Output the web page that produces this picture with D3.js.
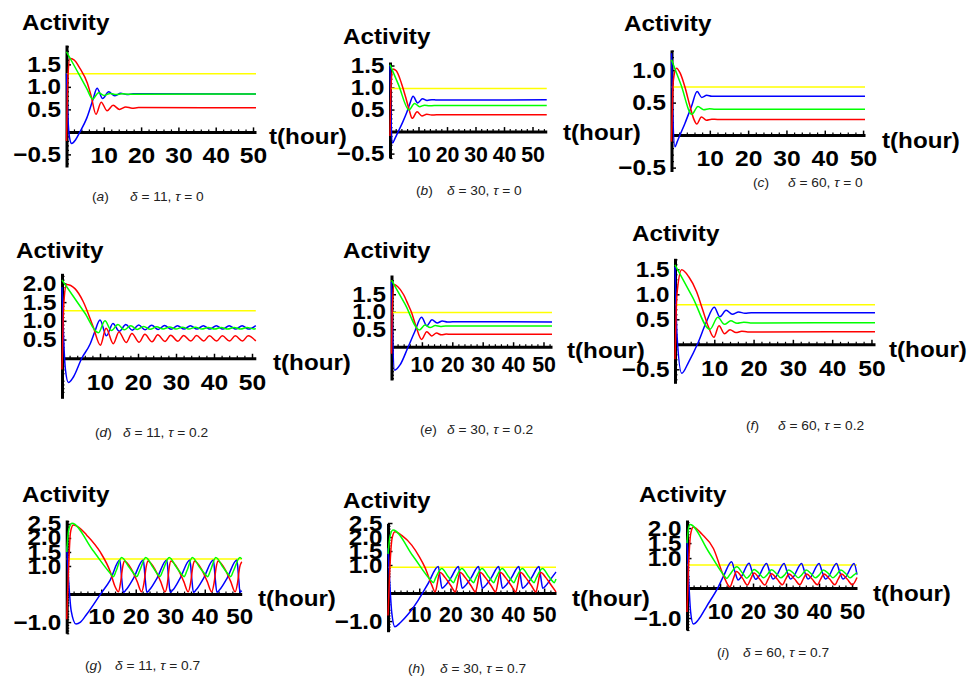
<!DOCTYPE html>
<html>
<head>
<meta charset="utf-8">
<script src="https://cdn.jsdelivr.net/npm/d3@7"></script>
<style>
  body { margin: 0; background: #fff; }
  svg { display: block; background: #fff; }
  .axis text, .bold-label { font-family: "Liberation Sans", Arial, sans-serif; font-weight: bold; font-size: 22px; fill: #000; }
  .caption { font-family: "Liberation Sans", Arial, sans-serif; font-size: 12.5px; fill: #222; }
</style>
</head>
<body>
<svg id="chart" width="971" height="678"></svg>
<script>
// ---- panel labels ----
const panelLetters = ["a", "b", "c", "d", "e", "f", "g", "h", "i"];
const deltaValues = [11, 30, 60, 11, 30, 60, 11, 30, 60];
const tauValues = ["0", "0", "0", "0.2", "0.2", "0.2", "0.7", "0.7", "0.7"];
const xTickLabels = [10, 20, 30, 40, 50];
const yTicksA = [-0.5, 0.5, 1.0, 1.5];
const yTicksB = [-0.5, 0.5, 1.0, 1.5];
const yTicksC = [-0.5, 0.5, 1.0];
const yTicksD = [0.5, 1.0, 1.5, 2.0];
const yTicksE = [0.5, 1.0, 1.5];
const yTicksF = [-0.5, 0.5, 1.0, 1.5];
const yTicksG = [-1.0, 1.0, 1.5, 2.0, 2.5];
const yTicksH = [-1.0, 1.0, 1.5, 2.0, 2.5];
const yTicksI = [-1.0, 1.0, 1.5, 2.0];

// ---- series: [t, activity] ----
// (a) delta = 11, tau = 0
const yellowA = [[0, 1.29], [50.8, 1.29]];
const blueA = [[0, 1.3], [0.4, 0.3], [0.8, -0.12], [1.4, -0.26], [2.4, -0.18], [3.6, 0], [5.4, 0.3], [7.1, 0.72], [8.2, 0.97], [9.7, 0.74], [11.3, 0.89], [12.9, 0.8], [14.5, 0.86], [16.2, 0.83], [17.9, 0.845], [50.8, 0.84]];
const redA = [[0, -0.2], [0.4, 1.25], [0.9, 1.63], [2, 1.6], [3.6, 1.41], [5.6, 1.08], [6.6, 0.8], [7.9, 0.39], [9.3, 0.66], [10.9, 0.47], [12.5, 0.59], [14.2, 0.5], [15.9, 0.555], [17.6, 0.525], [19.3, 0.54], [50.8, 0.535]];
const greenA = [[0, 1.78], [3, 1.33], [5.5, 0.95], [7, 0.73], [8.6, 0.87], [10.1, 0.81], [11.7, 0.855], [13.3, 0.83], [14.9, 0.845], [16.5, 0.838], [50.8, 0.84]];

// (b) delta = 30, tau = 0
const yellowB = [[0, 0.98], [55, 0.98]];
const blueB = [[0, 1.5], [0.3, 0.5], [0.9, -0.26], [1.8, -0.15], [2.9, 0], [4.5, 0.22], [5.8, 0.42], [7, 0.64], [8.1, 0.8], [9.7, 0.65], [11.4, 0.745], [13, 0.705], [14.7, 0.725], [16.4, 0.717], [55, 0.72]];
const redB = [[0, -0.1], [0.4, 1.1], [1, 1.42], [2.2, 1.38], [4, 1.1], [5.5, 0.78], [6.7, 0.5], [7.8, 0.3], [9.5, 0.45], [11.2, 0.355], [12.9, 0.395], [14.6, 0.375], [16.3, 0.382], [55, 0.38]];
const greenB = [[0, 1.52], [3, 1.06], [6.7, 0.49], [8.6, 0.64], [10.4, 0.565], [12.1, 0.6], [13.8, 0.585], [15.5, 0.592], [55, 0.59]];

// (c) delta = 60, tau = 0
const yellowC = [[0, 0.74], [50.5, 0.74]];
const blueC = [[0, 1.26], [0.3, 0.4], [0.9, -0.18], [1.5, -0.1], [2.2, 0], [3.5, 0.18], [5.2, 0.44], [6.7, 0.67], [7.9, 0.58], [9.2, 0.612], [10.5, 0.597], [12, 0.6], [50.5, 0.6]];
const redC = [[0, -0.1], [0.5, 0.85], [1.3, 1.03], [2.3, 0.95], [3.5, 0.74], [4.8, 0.45], [5.8, 0.25], [6.6, 0.17], [7.8, 0.28], [9.1, 0.23], [10.5, 0.245], [12, 0.24], [50.5, 0.24]];
const greenC = [[0, 1.16], [2.5, 0.77], [5.3, 0.32], [6.9, 0.44], [8.4, 0.39], [9.9, 0.405], [11.4, 0.398], [50.5, 0.4]];

// (d) delta = 11, tau = 0.2
const yellowD = [[0, 1.27], [51, 1.27]];
const blueD = [[0, 1.9], [0.4, 0.6], [0.9, -0.3], [1.7, -0.65], [3, -0.5], [5.2, 0], [7.4, 0.38], [8.6, 0.7], [10, 1.02], [11.7, 0.6], [13.4, 0.93], [15.1, 0.72], [16.8, 0.9], [18.5, 0.75], [20.2, 0.89], [21.9, 0.76], [23.6, 0.88], [25.3, 0.77], [27, 0.875], [28.7, 0.775], [30.4, 0.87], [32.1, 0.78], [33.8, 0.87], [35.5, 0.78], [37.2, 0.87], [38.9, 0.78], [40.6, 0.87], [42.3, 0.78], [44, 0.87], [45.7, 0.78], [47.4, 0.87], [49.1, 0.78], [51, 0.87]];
const redD = [[0, -0.3], [0.5, 1.5], [1.2, 1.97], [3.4, 1.86], [5.6, 1.51], [8.2, 0.84], [10.1, 0.35], [11.6, 0.8], [13.5, 0.39], [15, 0.7], [16.9, 0.42], [18.4, 0.66], [20.3, 0.43], [21.8, 0.64], [23.7, 0.44], [25.2, 0.625], [27.1, 0.45], [28.6, 0.615], [30.5, 0.455], [32, 0.61], [33.9, 0.46], [35.4, 0.605], [37.3, 0.46], [38.8, 0.6], [40.7, 0.46], [42.2, 0.6], [44.1, 0.46], [45.6, 0.6], [47.5, 0.46], [49, 0.6], [51, 0.46]];
const greenD = [[0, 2.09], [3, 1.65], [6, 1.21], [9.6, 0.68], [11.3, 1.0], [13, 0.74], [14.7, 0.9], [16.4, 0.76], [18.1, 0.87], [19.8, 0.77], [21.5, 0.85], [23.2, 0.775], [24.9, 0.84], [26.6, 0.78], [28.3, 0.835], [30, 0.78], [31.7, 0.83], [33.4, 0.78], [35.1, 0.83], [36.8, 0.78], [38.5, 0.825], [40.2, 0.78], [41.9, 0.825], [43.6, 0.78], [45.3, 0.825], [47, 0.78], [48.7, 0.825], [50.4, 0.785], [51, 0.79]];

// (e) delta = 30, tau = 0.2
const yellowE = [[0, 0.98], [52.8, 0.98]];
const blueE = [[0, 1.85], [0.3, 0.6], [1, -0.67], [2.8, -0.52], [5.5, 0], [7.6, 0.42], [9.9, 0.84], [11.6, 0.6], [13.3, 0.77], [15, 0.68], [16.7, 0.735], [18.4, 0.705], [20.1, 0.715], [52.8, 0.71]];
const redE = [[0, -0.2], [0.3, 1.2], [0.9, 1.78], [2, 1.72], [3.9, 1.5], [5.5, 1.2], [6.6, 0.98], [8, 0.6], [9.9, 0.21], [11.6, 0.43], [13.2, 0.31], [14.8, 0.39], [16.4, 0.34], [18, 0.365], [19.6, 0.355], [52.8, 0.36]];
const greenE = [[0, 1.9], [4.5, 1.21], [9.2, 0.48], [11, 0.62], [12.7, 0.55], [14.4, 0.605], [16.1, 0.58], [17.8, 0.595], [52.8, 0.59]];

// (f) delta = 60, tau = 0.2
const yellowF = [[0, 0.79], [50.9, 0.79]];
const blueF = [[0, 1.55], [0.5, 0.2], [1.7, -0.58], [3.5, -0.35], [5.7, 0], [8, 0.45], [10, 0.74], [11.4, 0.55], [13, 0.68], [14.6, 0.6], [16.2, 0.645], [17.8, 0.622], [19.4, 0.632], [50.9, 0.63]];
const redF = [[0, -0.3], [0.5, 1.0], [1.7, 1.49], [3.5, 1.35], [5.5, 1.05], [7, 0.7], [8.5, 0.35], [9.9, 0.14], [11.2, 0.37], [12.6, 0.21], [14, 0.29], [15.5, 0.235], [17, 0.26], [18.5, 0.248], [50.9, 0.25]];
const greenF = [[0, 1.59], [4.5, 0.94], [8.9, 0.3], [10.9, 0.54], [12.6, 0.4], [14.2, 0.47], [15.8, 0.42], [17.5, 0.44], [19.2, 0.428], [50.9, 0.43]];

// (g) delta = 11, tau = 0.7
const yellowG = [[0, 1.25], [50.7, 1.25]];
const blueG = [[0, 1.7], [0.5, 0.6], [1.3, -0.6], [2.7, -1.07], [4, -1.0], [5.8, -0.72], [9.7, -0.02], [12.6, 0.5], [15.4, 1.21], [15.9, 0.6], [16.4, 0.06], [17.2, 0.15], [19.3, 0.55], [22.2, 1.21], [22.7, 0.6], [23.2, 0.06], [24, 0.15], [26.1, 0.55], [29, 1.21], [29.5, 0.6], [30, 0.06], [30.8, 0.15], [32.8, 0.55], [35.7, 1.21], [36.2, 0.6], [36.7, 0.06], [37.5, 0.15], [39.6, 0.55], [42.5, 1.21], [43, 0.6], [43.5, 0.06], [44.3, 0.15], [46.4, 0.55], [49.3, 1.21], [49.8, 0.6], [50.2, 0.06], [50.7, 0.12]];
const redG = [[0, -0.9], [0.5, 0.8], [1.1, 2.2], [1.9, 2.46], [3.5, 2.38], [5.8, 2.1], [9.7, 1.5], [12.6, 0.8], [14, 0.27], [15, 0.08], [15.6, 0.4], [16.2, 0.95], [16.7, 1.18], [18.7, 0.9], [20.4, 0.45], [21.7, 0.08], [22.4, 0.4], [23, 0.95], [23.5, 1.18], [25.5, 0.9], [27.2, 0.45], [28.5, 0.08], [29.2, 0.4], [29.7, 0.95], [30.2, 1.18], [32.2, 0.9], [33.9, 0.45], [35.2, 0.08], [35.9, 0.4], [36.5, 0.95], [37, 1.18], [39, 0.9], [40.7, 0.45], [42, 0.08], [42.7, 0.4], [43.3, 0.95], [43.8, 1.18], [45.8, 0.9], [47.5, 0.45], [48.8, 0.08], [49.5, 0.4], [50.1, 0.95], [50.7, 1.15]];
const greenG = [[0, 1.5], [0.6, 2.3], [1.5, 2.52], [7.5, 1.57], [12.9, 0.7], [13.5, 0.62], [14.3, 0.82], [15.9, 1.3], [18.1, 0.95], [19.8, 0.68], [20.3, 0.62], [21.1, 0.82], [22.9, 1.3], [25, 0.95], [26.5, 0.68], [27, 0.62], [27.8, 0.82], [29.7, 1.3], [31.8, 0.95], [33.5, 0.68], [34, 0.62], [34.8, 0.82], [36.4, 1.3], [38.5, 0.95], [40.3, 0.68], [40.8, 0.62], [41.6, 0.82], [43.2, 1.3], [45.3, 0.95], [47, 0.68], [47.5, 0.62], [48.3, 0.82], [50.2, 1.3], [50.7, 1.25]];

// (h) delta = 30, tau = 0.7
const yellowH = [[0, 0.92], [53.8, 0.92]];
const blueH = [[0, 1.6], [0.5, 0.5], [1.2, -0.7], [2.2, -1.2], [4, -1.05], [6.5, -0.75], [9.7, -0.25], [12.9, 0.35], [16.1, 0.95], [16.7, 0.55], [17.3, 0.17], [18.2, 0.25], [20.2, 0.55], [22.55, 0.95], [23.15, 0.55], [23.75, 0.17], [24.65, 0.25], [26.65, 0.55], [29, 0.95], [29.6, 0.55], [30.2, 0.17], [31.1, 0.25], [33.1, 0.55], [35.45, 0.95], [36.05, 0.55], [36.65, 0.17], [37.55, 0.25], [39.55, 0.55], [41.9, 0.95], [42.5, 0.55], [43.1, 0.17], [44, 0.25], [46, 0.55], [48.35, 0.95], [48.95, 0.55], [49.55, 0.17], [50.45, 0.25], [52.45, 0.55], [53.8, 0.75]];
const redH = [[0, -0.8], [0.6, 0.9], [1.3, 1.95], [2.2, 2.19], [4.5, 2.05], [7.6, 1.71], [10, 1.3], [11.9, 0.9], [14, 0.29], [15.1, 0.04], [15.8, 0.35], [16.3, 0.65], [16.7, 0.73], [18.3, 0.55], [20.2, 0.25], [21.55, 0.04], [22.25, 0.35], [22.75, 0.65], [23.15, 0.73], [24.75, 0.55], [26.65, 0.25], [28, 0.04], [28.7, 0.35], [29.2, 0.65], [29.6, 0.73], [31.2, 0.55], [33.1, 0.25], [34.45, 0.04], [35.15, 0.35], [35.65, 0.65], [36.05, 0.73], [37.65, 0.55], [39.55, 0.25], [40.9, 0.04], [41.6, 0.35], [42.1, 0.65], [42.5, 0.73], [44.1, 0.55], [46, 0.25], [47.35, 0.04], [48.05, 0.35], [48.55, 0.65], [48.95, 0.73], [50.55, 0.55], [52.45, 0.25], [53.8, 0.04]];
const greenH = [[0, 1.4], [0.7, 2.05], [1.6, 2.25], [8, 1.32], [14, 0.42], [14.5, 0.37], [15.3, 0.55], [17.2, 0.88], [19.3, 0.58], [20.45, 0.42], [20.95, 0.37], [21.75, 0.55], [23.65, 0.88], [25.75, 0.58], [26.9, 0.42], [27.4, 0.37], [28.2, 0.55], [30.1, 0.88], [32.2, 0.58], [33.35, 0.42], [33.85, 0.37], [34.65, 0.55], [36.55, 0.88], [38.65, 0.58], [39.8, 0.42], [40.3, 0.37], [41.1, 0.55], [43, 0.88], [45.1, 0.58], [46.25, 0.42], [46.75, 0.37], [47.55, 0.55], [49.45, 0.88], [51.55, 0.58], [52.7, 0.42], [53.2, 0.37], [53.8, 0.5]];

// (i) delta = 60, tau = 0.7
const yellowI = [[0, 0.77], [51.5, 0.77]];
const blueI = [[0, 1.6], [0.5, 0.3], [1.1, -0.8], [1.9, -1.2], [3.5, -1.05], [6, -0.6], [9.5, 0.04], [11.2, 0.43], [13.5, 0.88], [14.5, 0.55], [15.5, 0.27], [16.3, 0.35], [18.8, 0.83], [19.8, 0.52], [20.8, 0.29], [21.6, 0.37], [24.1, 0.82], [25.1, 0.52], [26.1, 0.3], [26.9, 0.37], [29.4, 0.82], [30.4, 0.52], [31.4, 0.3], [32.2, 0.37], [34.7, 0.82], [35.7, 0.52], [36.7, 0.3], [37.5, 0.37], [40, 0.82], [41, 0.52], [42, 0.3], [42.8, 0.37], [45.3, 0.82], [46.3, 0.52], [47.3, 0.3], [48.1, 0.37], [50.6, 0.82], [51.5, 0.45]];
const redI = [[0, -0.8], [0.5, 0.8], [1.1, 1.8], [1.9, 2.04], [4.5, 1.8], [8, 1.32], [11, 0.43], [13, 0.04], [14, 0.3], [15, 0.55], [16.8, 0.33], [18.3, 0.1], [19.3, 0.3], [20.3, 0.5], [22, 0.3], [23.6, 0.1], [24.6, 0.3], [25.6, 0.48], [27.3, 0.3], [28.9, 0.11], [29.9, 0.3], [30.9, 0.47], [32.6, 0.3], [34.2, 0.11], [35.2, 0.3], [36.2, 0.47], [37.9, 0.3], [39.5, 0.11], [40.5, 0.3], [41.5, 0.47], [43.2, 0.3], [44.8, 0.11], [45.8, 0.3], [46.8, 0.47], [48.5, 0.3], [50.1, 0.11], [51.5, 0.35]];
const greenI = [[0, 1.5], [0.4, 1.95], [0.9, 2.12], [6.5, 1.22], [11.5, 0.38], [12, 0.32], [13, 0.45], [15.1, 0.71], [16.8, 0.5], [18.1, 0.33], [19, 0.42], [20.3, 0.62], [22, 0.47], [23.2, 0.34], [24.2, 0.43], [25.6, 0.61], [27.2, 0.47], [28.4, 0.34], [29.5, 0.43], [30.8, 0.6], [32.5, 0.47], [33.7, 0.34], [34.7, 0.43], [36.1, 0.6], [37.7, 0.47], [38.9, 0.34], [40, 0.43], [41.3, 0.6], [43, 0.47], [44.2, 0.34], [45.2, 0.43], [46.6, 0.6], [48.2, 0.47], [49.4, 0.34], [50.4, 0.42], [51.5, 0.52]];

const panelSeries = [
  [yellowA, blueA, redA, greenA],
  [yellowB, blueB, redB, greenB],
  [yellowC, blueC, redC, greenC],
  [yellowD, blueD, redD, greenD],
  [yellowE, blueE, redE, greenE],
  [yellowF, blueF, redF, greenF],
  [yellowG, blueG, redG, greenG],
  [yellowH, blueH, redH, greenH],
  [yellowI, blueI, redI, greenI],
];
const panelYTicks = [yTicksA, yTicksB, yTicksC, yTicksD, yTicksE, yTicksF, yTicksG, yTicksH, yTicksI];
const seriesColors = ["#ffff00", "#0000ff", "#ff0000", "#00ff00"];

// ---- layout (pixel frames of each small plot) ----
// xs: horizontal squeeze of the x tick labels (the middle column is tighter)
const frames = [
  { tMax: 50.8, xr: [66.5, 256], yd: [-0.78, 1.93], yr: [167, 45], xPad: 16, xs: 1.12, title: [22, 30], tl: [269, 144], cap: [92, 130, 201] },
  { tMax: 55, xr: [390, 546.75], yd: [-0.6, 1.58], yr: [158, 62], xPad: 15, xs: 0.97, title: [343, 44], tl: [563, 139.5], cap: [416, 447, 195] },
  { tMax: 50.5, xr: [671.5, 865], yd: [-0.56, 1.31], yr: [171.5, 50], xPad: 15, xs: 1.12, title: [624, 31], tl: [882, 147.5], cap: [753, 788, 187] },
  { tMax: 51, xr: [62, 255.8], yd: [-1.07, 2.27], yr: [398.3, 273.3], xPad: 16.5, xs: 1.12, title: [16, 257.5], tl: [273, 370], cap: [95, 123, 437] },
  { tMax: 52.8, xr: [391.5, 552], yd: [-0.95, 2.05], yr: [380, 275], xPad: 10, xs: 0.97, title: [343, 257.5], tl: [567, 357.5], cap: [420, 447, 434] },
  { tMax: 50.9, xr: [675, 875], yd: [-0.78, 1.72], yr: [383.3, 258.3], xPad: 16, xs: 1.12, title: [632, 241], tl: [889, 356.5], cap: [746, 778, 430] },
  { tMax: 50.7, xr: [66.7, 241.7], yd: [-1.4, 2.64], yr: [633.3, 520], xPad: 14, xs: 1.1, title: [22, 502], tl: [258, 606], cap: [85, 115, 670] },
  { tMax: 53.8, xr: [388, 556], yd: [-1.38, 2.49], yr: [631.7, 523.3], xPad: 13, xs: 0.97, title: [343, 507.5], tl: [572, 606], cap: [408, 440, 673] },
  { tMax: 51.5, xr: [687, 857], yd: [-1.4, 2.27], yr: [630, 520], xPad: 15, xs: 1.05, title: [639, 502], tl: [873, 601], cap: [717, 743, 657] },
];

const STRETCH = "scale(1.1,1)";
const svg = d3.select("#chart");

function drawPanel(f, i) {
  const x = d3.scaleLinear().domain([0, f.tMax]).range(f.xr);
  const y = d3.scaleLinear().domain(f.yd).range(f.yr);
  const g = svg.append("g").attr("class", "panel");

  // minor ticks
  const xMinor = d3.range(2, f.tMax, 2).filter((v) => v % 10 !== 0);
  const yMinor = d3.range(Math.ceil(f.yd[0] * 10), Math.floor(f.yd[1] * 10) + 1)
    .filter((k) => k % 5 !== 0)
    .map((k) => k / 10);

  g.append("g")
    .attr("transform", `translate(0,${y(0)})`)
    .call(d3.axisBottom(x).tickValues(xMinor).tickSize(-2.5).tickFormat(""))
    .call((s) => s.select(".domain").remove())
    .call((s) => s.selectAll("line").attr("stroke", "#000").attr("stroke-width", 1.2));

  g.append("g")
    .attr("transform", `translate(${x(0)},0)`)
    .call(d3.axisLeft(y).tickValues(yMinor).tickSize(-2.5).tickFormat(""))
    .call((s) => s.select(".domain").remove())
    .call((s) => s.selectAll("line").attr("stroke", "#000").attr("stroke-width", 1.2));

  // main axes
  const gx = g.append("g")
    .attr("class", "axis")
    .attr("transform", `translate(0,${y(0)})`)
    .call(
      d3.axisBottom(x)
        .tickValues(xTickLabels)
        .tickSizeInner(-4.5)
        .tickSizeOuter(0)
        .tickPadding(f.xPad)
        .tickFormat(d3.format("d"))
    );
  const gy = g.append("g")
    .attr("class", "axis")
    .attr("transform", `translate(${x(0)},0)`)
    .call(
      d3.axisLeft(y)
        .tickValues(panelYTicks[i])
        .tickSizeInner(-4.5)
        .tickSizeOuter(0)
        .tickPadding(5)
        .tickFormat(d3.format(".1f"))
    );

  [gx, gy].forEach((ax) => {
    ax.attr("font-size", null).attr("font-family", null);
    ax.select(".domain").attr("stroke", "#000").attr("stroke-width", 3);
    ax.selectAll(".tick line").attr("stroke", "#000").attr("stroke-width", 1.5);
  });
  gx.selectAll(".tick text").attr("transform", `scale(${f.xs},1)`);
  gy.selectAll(".tick text").attr("transform", STRETCH);

  // curves
  const line = d3.line()
    .x((d) => x(d[0]))
    .y((d) => y(d[1]))
    .curve(d3.curveMonotoneX);

  g.selectAll(".curve")
    .data(panelSeries[i])
    .join("path")
    .attr("class", "curve")
    .attr("fill", "none")
    .attr("stroke", (d, k) => seriesColors[k])
    .attr("stroke-width", 1.5)
    .attr("stroke-linejoin", "round")
    .attr("d", line);

  // titles
  g.append("text")
    .attr("class", "bold-label")
    .attr("transform", `translate(${f.title[0]},${f.title[1]}) ${STRETCH}`)
    .text("Activity");

  g.append("text")
    .attr("class", "bold-label")
    .attr("transform", `translate(${f.tl[0]},${f.tl[1]}) ${STRETCH}`)
    .text("t(hour)");

  // caption
  const capLetter = g.append("text")
    .attr("class", "caption")
    .attr("transform", `translate(${f.cap[0]},${f.cap[2]}) ${STRETCH}`);
  capLetter.append("tspan").text("(");
  capLetter.append("tspan").attr("font-style", "italic").text(panelLetters[i]);
  capLetter.append("tspan").text(")");

  const capText = g.append("text")
    .attr("class", "caption")
    .attr("transform", `translate(${f.cap[1]},${f.cap[2]}) ${STRETCH}`);
  capText.append("tspan").attr("font-style", "italic").text("δ");
  capText.append("tspan").text(` = ${deltaValues[i]}, `);
  capText.append("tspan").attr("font-style", "italic").text("τ");
  capText.append("tspan").text(` = ${tauValues[i]}`);
}

frames.forEach(drawPanel);
</script>
</body>
</html>
